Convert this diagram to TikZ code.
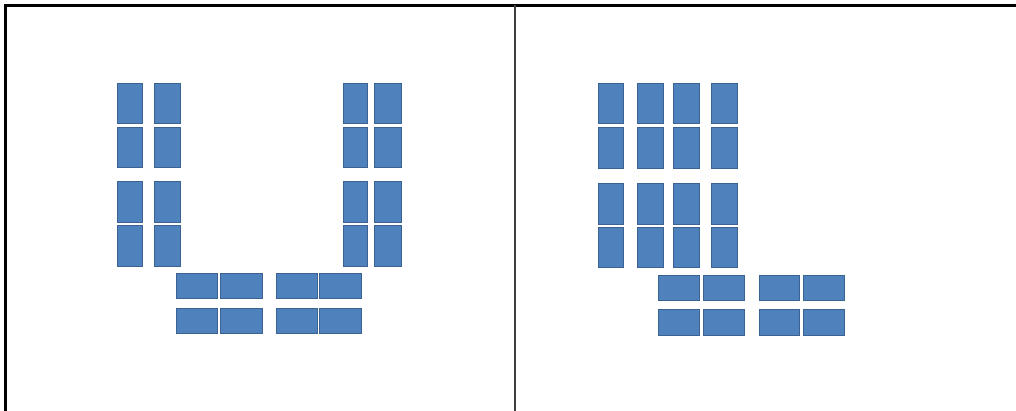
\documentclass[tikz,border=0pt]{standalone}
\definecolor{brickfill}{RGB}{79,129,189}
\definecolor{brickedge}{RGB}{60,98,146}
\tikzset{
  brick/.style={fill=brickfill, draw=brickedge, line width=0.8pt},
  frameline/.style={draw=black, line width=2.7pt},
  divider/.style={draw=black!75, line width=1.5pt}
}
\begin{document}
\begin{tikzpicture}[x=1pt,y=-1pt]
\useasboundingbox (0,0) rectangle (1016,411);
\fill[white] (0,0) rectangle (1016,411);
% frame
\draw[frameline] (5.3,411) -- (5.3,5.3) -- (1016,5.3);
\draw[divider] (515,5) -- (515,411);
% ---- left picture: vertical bricks
\foreach \xa/\xb in {117/142,154/180,343/367,374/401}{
  \foreach \ya/\yb in {83/123,127/167,181/222,225/266}{
    \draw[brick] (\xa,\ya) rectangle (\xb,\yb);
  }
}
% horizontal bricks
\foreach \xa/\xb in {176/217,220/262,276/317,319/361}{
  \foreach \ya/\yb in {273/298,308/333}{
    \draw[brick] (\xa,\ya) rectangle (\xb,\yb);
  }
}
% ---- right picture: vertical bricks
\foreach \xa/\xb in {598/623,637/663,673/699,711/737}{
  \foreach \ya/\yb in {83/123,127/168,183/224,227/267}{
    \draw[brick] (\xa,\ya) rectangle (\xb,\yb);
  }
}
\foreach \xa/\xb in {658/699,703/744,759/799,803/844}{
  \foreach \ya/\yb in {275/300,309/335}{
    \draw[brick] (\xa,\ya) rectangle (\xb,\yb);
  }
}
\end{tikzpicture}
\end{document}
